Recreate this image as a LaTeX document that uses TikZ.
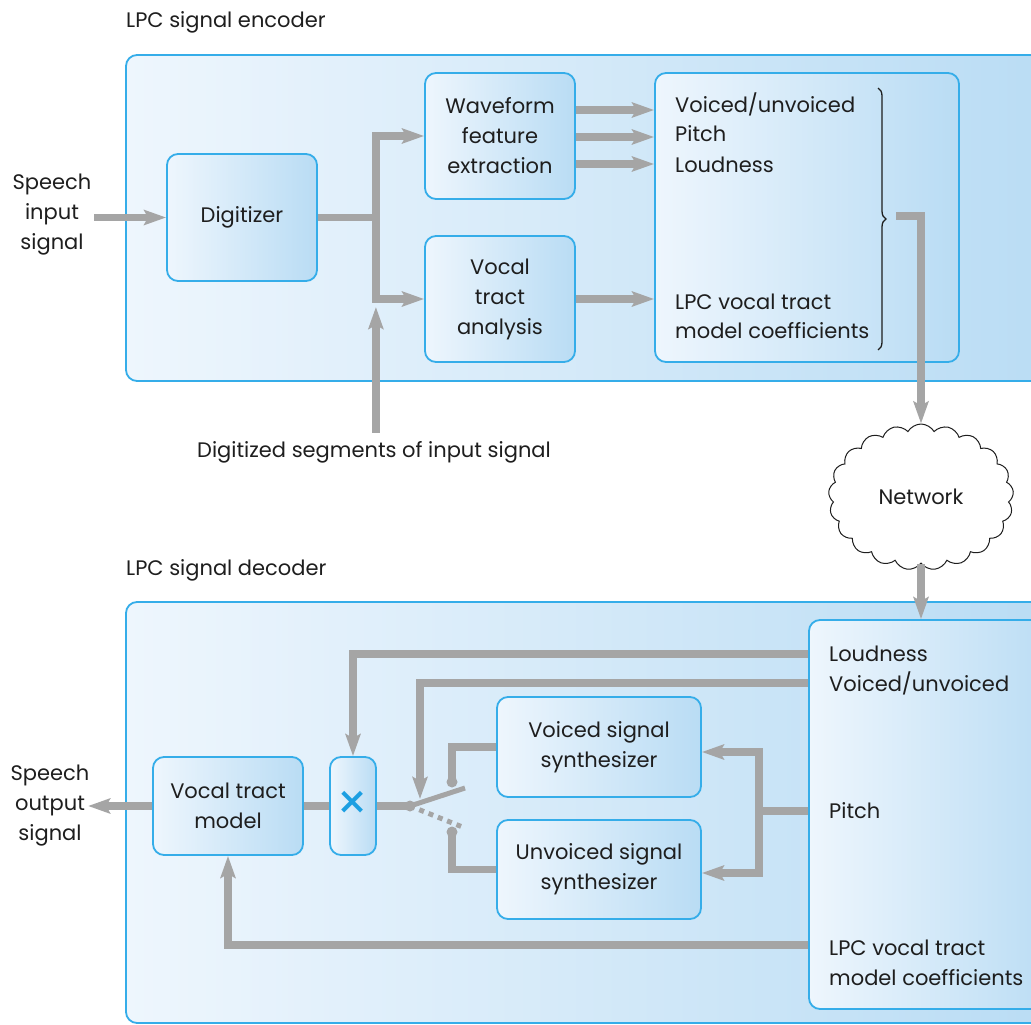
\documentclass[tikz,border=0pt]{standalone}
\usepackage{fontspec}
\setmainfont{Poppins}
\usetikzlibrary{arrows.meta,shapes.symbols,decorations.pathreplacing,calc}

\definecolor{edge}{HTML}{35ADE9}
\definecolor{light}{HTML}{EEF6FD}
\definecolor{deep}{HTML}{B9DCF4}
\definecolor{wirec}{HTML}{A5A5A5}
\definecolor{ink}{HTML}{1E1E1E}
\definecolor{markc}{HTML}{1C9FE2}

\begin{document}
\begin{tikzpicture}[x=1pt,y=-1pt,
  every node/.style={font=\fontsize{21}{30}\selectfont, text=ink, inner sep=0pt},
  panel/.style={draw=edge, line width=1.8pt, rounded corners=11pt, left color=light, right color=deep},
  block/.style={panel, align=center},
  wire/.style={draw=wirec, line width=7.5pt},
  flow/.style={wire, -{Stealth[length=22pt,width=15pt,inset=4pt]}},
  contact/.style={circle, fill=wirec, minimum size=11pt}
]
\path[use as bounding box] (0,0) rectangle (1031,1025);
\clip (0,0) rectangle (1031,1025);

% ---------------- encoder ----------------
\node[anchor=west] (encTitle) at (126,22) {LPC signal encoder};
\node[panel, minimum width=934pt, minimum height=326pt] (enc) at (593,218) {};

\node[block, minimum width=150pt, minimum height=127pt] (dig) at (242,217.5) {Digitizer};
\node[block, minimum width=150pt, minimum height=126pt] (wave) at (500,136) {Waveform\\feature\\extraction};
\node[block, minimum width=150pt, minimum height=126pt] (vta) at (500,299) {Vocal\\tract\\analysis};
\node[panel, minimum width=304pt, minimum height=289pt] (epar) at (807,217.5) {};

\node[anchor=west] (eVoi)   at (675,104) {Voiced/unvoiced};
\node[anchor=west] (ePitch) at (675,134) {Pitch};
\node[anchor=west] (eLoud)  at (675,165) {Loudness};
\node[anchor=west] (eLpcA)  at (675,302) {LPC vocal tract};
\node[anchor=west] (eLpcB)  at (675,331) {model coefficients};

\node[align=center] (inTxt) at (52,215) {Speech\\input\\signal};
\node (segTxt) at (374,452) {Digitized segments of input signal};

\draw[flow] ([xshift=-72pt]dig.west) -- (dig.west);
\draw[wire] (dig.east) -- ++(58,0) coordinate (bus);
\draw[flow] (bus) |- (wave.west);
\draw[flow] (bus) |- (vta.west);
\draw[flow] ([yshift=8pt]segTxt.north -| bus) -- ([yshift=-8pt]bus |- vta.west);

\draw[flow] ([yshift=26pt]wave.east) -- ([yshift=26pt]wave.east -| epar.west);
\draw[flow] ([yshift=-1pt]wave.east) -- ([yshift=-1pt]wave.east -| epar.west);
\draw[flow] ([yshift=-28pt]wave.east) -- ([yshift=-28pt]wave.east -| epar.west);
\draw[flow] (vta.east) -- (vta.east -| epar.west);

\draw[decorate, decoration={brace, amplitude=8pt}, draw=ink, line width=1.3pt]
  (878,88) -- (878,350);
\coordinate (btip) at (896,216);

% ---------------- network ----------------
\node[cloud, cloud puffs=21, cloud puff arc=120, aspect=1.27, draw=ink, fill=white,
      line width=1pt, minimum width=185pt, minimum height=146pt] (net) at (921,497) {Network};
\draw[flow] (btip) -| (net.north);

% ---------------- decoder ----------------
\node[anchor=west] (decTitle) at (126,570) {LPC signal decoder};
\node[panel, minimum width=934pt, minimum height=421pt] (dec) at (593,812.5) {};

\node[panel, minimum width=251pt, minimum height=389pt] (dpar) at (934.5,814.5) {};
\draw[flow] (net.south) -- (net.south |- dpar.north);

\node[anchor=west] (dLoud)  at (829,654) {Loudness};
\node[anchor=west] (dVoi)   at (829,683) {Voiced/unvoiced};
\node[anchor=west] (dPitch) at (829,811) {Pitch};
\node[anchor=west] (dLpcA)  at (829,948) {LPC vocal tract};
\node[anchor=west] (dLpcB)  at (829,978) {model coefficients};

\node[block, minimum width=150pt, minimum height=98pt] (vtm) at (228,806) {Vocal tract\\model};
\node[block, minimum width=46pt, minimum height=98pt] (mul) at (353,806)
  {\fontsize{50}{50}\selectfont\color{markc}×};
\node[block, minimum width=204pt, minimum height=100pt] (vs) at (599,747) {Voiced signal\\synthesizer};
\node[block, minimum width=204pt, minimum height=99pt] (us) at (599,869.5) {Unvoiced signal\\synthesizer};

\node[align=center] (outTxt) at (50,806) {Speech\\output\\signal};

% switch
\coordinate (pv) at (410,806);
\coordinate (cu) at (452,782);
\coordinate (cl) at (452,832);
\coordinate (armhit) at (420,799);

\draw[wire] (vtm.east) -- (mul.west);
\draw[wire] (mul.east) -- (pv);
\draw[flow] (vtm.west) -- ++(-64,0);

\draw[wire] (cu) |- (vs.west);
\draw[wire] (cl) |- (us.west);
\draw[wirec, line width=5pt] (pv) -- (465,788);
\draw[wirec, line width=5pt, dash pattern=on 5pt off 5pt] (pv) -- (465,828);
\node[contact] at (pv) {};
\node[contact] at (cu) {};
\node[contact] at (cl) {};

\draw[flow] (dpar.west |- dLoud) -| (mul.north);
\draw[flow] (dpar.west |- dVoi) -| (armhit);

\draw[wire] (dpar.west |- dPitch) -- ++(-49,0) coordinate (pj);
\draw[flow] (pj) |- ([yshift=-5pt]vs.east);
\draw[flow] (pj) |- ([yshift=-3.5pt]us.east);

\draw[flow] ([yshift=3pt]dpar.west |- dLpcA) -| (vtm.south);
\end{tikzpicture}
\end{document}
